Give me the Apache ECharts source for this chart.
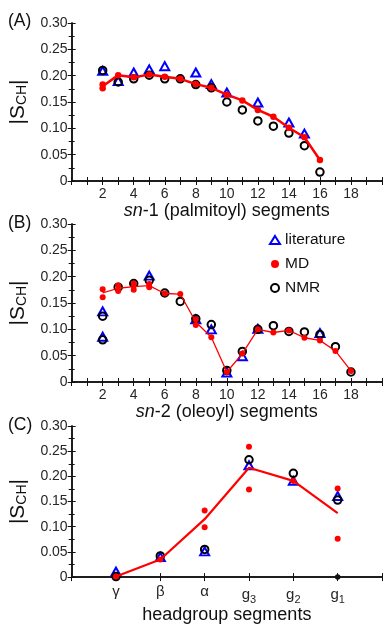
<!DOCTYPE html>
<html>
<head>
<meta charset="utf-8">
<script src="https://cdn.jsdelivr.net/npm/echarts@6/dist/echarts.min.js"></script>
<style>
html,body{margin:0;padding:0;background:#fff;}
#c{width:385px;height:625px;}
</style>
</head>
<body>
<div id="c"></div>
<script>
// ---------- DATA ----------
// Panel A: sn-1 (palmitoyl) segments  [segment, |S_CH|]
const sn1Literature = [[2,0.209],[3,0.190],[4,0.206],[5,0.212],[6,0.218],[8,0.206],[9,0.184],[10,0.168],[12,0.149],[14,0.111],[15,0.090]];
const sn1MD = [[2,0.183],[2,0.176],[3,0.201],[4,0.197],[5,0.202],[6,0.198],[7,0.194],[8,0.184],[9,0.177],[10,0.164],[11,0.153],[12,0.135],[13,0.122],[14,0.101],[15,0.083],[16,0.040]];
const sn1MDLine = [[2,0.180],[3,0.201],[4,0.197],[5,0.202],[6,0.198],[7,0.194],[8,0.184],[9,0.177],[10,0.164],[11,0.153],[12,0.135],[13,0.122],[14,0.101],[15,0.083],[16,0.040]];
const sn1NMR = [[2,0.210],[3,0.188],[4,0.194],[5,0.201],[6,0.194],[7,0.194],[8,0.183],[9,0.177],[10,0.150],[11,0.135],[12,0.114],[13,0.104],[14,0.091],[15,0.067],[16,0.017]];

// Panel B: sn-2 (oleoyl) segments
const sn2Literature = [[2,0.134],[2,0.086],[5,0.202],[8,0.119],[9,0.100],[10,0.018],[11,0.049],[12,0.101],[16,0.093]];
const sn2MD = [[2,0.176],[2,0.161],[3,0.183],[3,0.173],[4,0.187],[4,0.175],[5,0.186],[5,0.180],[6,0.168],[7,0.167],[8,0.119],[8,0.108],[9,0.085],[10,0.019],[11,0.054],[12,0.100],[13,0.094],[14,0.098],[15,0.084],[16,0.079],[17,0.059],[18,0.021]];
const sn2MDLine = [[2,0.169],[3,0.178],[4,0.181],[5,0.183],[6,0.168],[7,0.167],[8,0.114],[9,0.085],[10,0.019],[11,0.054],[12,0.100],[13,0.094],[14,0.098],[15,0.084],[16,0.079],[17,0.059],[18,0.021]];
const sn2NMR = [[2,0.125],[2,0.080],[3,0.180],[4,0.187],[5,0.193],[6,0.169],[7,0.153],[8,0.120],[9,0.109],[10,0.022],[11,0.058],[12,0.100],[13,0.107],[14,0.096],[15,0.095],[16,0.090],[17,0.067],[18,0.019]];

// Panel C: headgroup segments
const hgCategories = ['γ','β','α','g{s|3}','g{s|2}','g{s|1}'];
const hgLiterature = [[0.011],[0.040],[0.051],[0.222],[0.191],[0.161]];
const hgMD = [[0.001],[0.035],[0.132,0.099],[0.259,0.174],[0.191],[0.176,0.076]];
const hgMDLine = [0.001,0.035,0.115,0.217,0.191,0.127];
const hgNMR = [[0.001],[0.042],[0.055],[0.233],[0.206],[0.153]];
const hgNMRZero = [[],[],[],[],[],[0]];

// tick labels
const chainTickLabels = [2,4,6,8,10,12,14,16,18];
const yTickLabels = [0,0.05,0.10,0.15,0.20,0.25,0.30];

// ---------- BUILD ----------
const FONT = 'Liberation Sans, Arial, Helvetica, sans-serif';
const BLUE = '#0000ff', RED = '#ff0000', BLACK = '#000000';
const TXT = '#262626';

function hgPoints(arr){ const out=[]; arr.forEach((vals,i)=>vals.forEach(v=>out.push([i+1,v]))); return out; }

const grids = [
  {left:65,right:0,top:23,height:158},
  {left:65,right:0,top:224,height:158},
  {left:65,right:0,top:426,height:157}
];

const axisLine = {show:true,lineStyle:{color:'#111',width:1.5}};
function xBottom(g, opts){
  return Object.assign({
    type:'value', gridIndex:g, position:'bottom', min:0, max:20, interval:1,
    axisLine, splitLine:{show:false},
    axisTick:{show:true,inside:true,length:4,lineStyle:{color:'#111',width:1}},
    axisLabel:{show:true,margin:6,color:TXT,fontSize:14,fontFamily:FONT,
      formatter:v=>chainTickLabels.indexOf(v)>=0?String(v):''},
    nameLocation:'middle', nameTextStyle:{fontSize:18,fontFamily:FONT,color:'#111',
      rich:{i:{fontSize:18,fontFamily:FONT,fontStyle:'italic',color:'#111'}}}
  }, opts);
}
function xTop(g, opts){
  return Object.assign({
    type:'value', gridIndex:g, position:'top', min:0, max:20, interval:1,
    axisLine, splitLine:{show:false},
    axisTick:{show:true,inside:true,length:4,lineStyle:{color:'#111',width:1}},
    axisLabel:{show:false}
  }, opts);
}
function yLeft(g){
  return {
    type:'value', gridIndex:g, position:'left', min:0, max:0.3, interval:0.05,
    axisLine, splitLine:{show:false},
    axisTick:{show:true,inside:true,length:4,lineStyle:{color:'#111',width:1}},
    minorTick:{show:true,splitNumber:2,length:3,lineStyle:{color:'#111',width:1}},
    axisLabel:{show:true,margin:4,color:TXT,fontSize:14,fontFamily:FONT,
      formatter:v=>{const k=yTickLabels.findIndex(t=>Math.abs(t-v)<1e-9);return k<0?'':(yTickLabels[k]===0?'0':yTickLabels[k].toFixed(2));}},
    name:'|S{s|CH}|', nameLocation:'middle', nameRotate:90, nameGap:35,
    nameTextStyle:{fontSize:21,fontFamily:FONT,color:'#111',
      rich:{s:{fontSize:14,fontFamily:FONT,color:'#111',verticalAlign:'bottom',padding:[8,0,0,0]}}}
  };
}
function yRight(g){
  return {
    type:'value', gridIndex:g, position:'right', min:0, max:0.3, interval:0.05,
    axisLine, splitLine:{show:false},
    axisTick:{show:true,inside:true,length:4,lineStyle:{color:'#111',width:1}},
    minorTick:{show:true,splitNumber:2,length:3,lineStyle:{color:'#111',width:1}},
    axisLabel:{show:false}
  };
}

const xAxes = [
  xBottom(0,{name:'{i|sn}-1 (palmitoyl) segments',nameGap:16}),
  xTop(0),
  xBottom(1,{name:'{i|sn}-2 (oleoyl) segments',nameGap:13}),
  xTop(1),
  xBottom(2,{max:7,name:'headgroup segments',nameGap:28,
    axisLabel:{show:true,margin:7,color:TXT,fontSize:15,fontFamily:FONT,
      formatter:v=>(v>=1&&v<=hgCategories.length)?hgCategories[v-1]:'',
      rich:{s:{fontSize:11,fontFamily:FONT,color:TXT,verticalAlign:'bottom',padding:[10,0,0,0]}}}}),
  xTop(2,{max:7})
];
const yAxes = [yLeft(0),yRight(0),yLeft(1),yRight(1),yLeft(2),yRight(2)];

function litSeries(ai,data){
  return {name:'literature',type:'scatter',xAxisIndex:ai,yAxisIndex:ai,data,symbol:'triangle',symbolSize:[9,8],
    itemStyle:{color:'rgba(0,0,0,0)',borderColor:BLUE,borderWidth:2,opacity:1},z:2,silent:true};
}
function nmrSeries(ai,data){
  return {name:'NMR',type:'scatter',xAxisIndex:ai,yAxisIndex:ai,data,symbol:'circle',symbolSize:7.5,
    itemStyle:{color:'rgba(0,0,0,0)',borderColor:BLACK,borderWidth:2,opacity:1},z:3,silent:true};
}
function mdLine(ai,data,w){
  return {name:'MD line',type:'line',xAxisIndex:ai,yAxisIndex:ai,data,showSymbol:false,symbol:'none',
    lineStyle:{color:RED,width:w},z:4,silent:true,animation:false};
}
function mdSeries(ai,data,size){
  return {name:'MD',type:'scatter',xAxisIndex:ai,yAxisIndex:ai,data,symbol:'circle',symbolSize:size,
    itemStyle:{color:RED,opacity:1},z:5,silent:true};
}

const series = [
  litSeries(0,sn1Literature), nmrSeries(0,sn1NMR), mdLine(0,sn1MDLine,2.5), mdSeries(0,sn1MD,6.5),
  litSeries(2,sn2Literature), nmrSeries(2,sn2NMR), mdLine(2,sn2MDLine,1.3), mdSeries(2,sn2MD,6),
  litSeries(4,hgPoints(hgLiterature)), nmrSeries(4,hgPoints(hgNMR)), mdLine(4,hgMDLine.map((v,i)=>[i+1,v]),2.2), mdSeries(4,hgPoints(hgMD),6),
  {name:'NMR zero',type:'scatter',xAxisIndex:4,yAxisIndex:4,data:hgPoints(hgNMRZero),symbol:'circle',symbolSize:5.5,itemStyle:{color:'#111',opacity:1},z:6,silent:true}
];

const chart = echarts.init(document.getElementById('c'),null,{renderer:'canvas'});
chart.setOption({
  animation:false,
  backgroundColor:'#fff',
  grid:grids,
  xAxis:xAxes,
  yAxis:yAxes,
  series,
  legend:{
    orient:'vertical', left:269, top:232, padding:0, itemGap:8, itemWidth:10, itemHeight:8,
    selectedMode:false,
    textStyle:{fontSize:15.5,fontFamily:FONT,color:'#111'},
    data:[
      {name:'literature',icon:'triangle',itemStyle:{color:'rgba(0,0,0,0)',borderColor:BLUE,borderWidth:2}},
      {name:'MD',icon:'circle',itemStyle:{color:RED,borderWidth:0}},
      {name:'NMR',icon:'circle',itemStyle:{color:'rgba(0,0,0,0)',borderColor:BLACK,borderWidth:2}}
    ]
  },
  graphic:[
    {type:'text',left:8,top:12,style:{text:'(A)',font:'17.5px '+FONT,fill:'#111'}},
    {type:'text',left:8,top:214,style:{text:'(B)',font:'17.5px '+FONT,fill:'#111'}},
    {type:'text',left:8,top:416,style:{text:'(C)',font:'17.5px '+FONT,fill:'#111'}}
  ]
});
</script>
</body>
</html>
